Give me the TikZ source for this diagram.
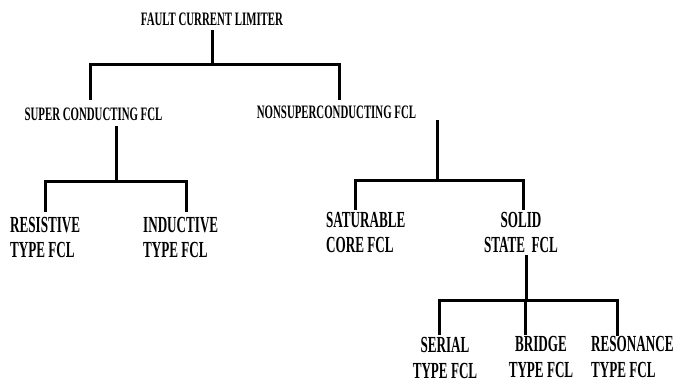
\documentclass[tikz,border=0pt]{standalone}
\usepackage{fontspec}
\newfontfamily\lblfont{Liberation Serif Bold}[FakeStretch=0.57]
\begin{document}
\begin{tikzpicture}[x=1pt,y=-1pt,
  conn/.style={line width=3pt,line cap=rect},
  toplbl/.style={inner sep=0pt,font=\lblfont\fontsize{19}{21}\selectfont},
  lbl/.style={inner sep=0pt,font=\lblfont\fontsize{23}{25.5}\selectfont}]
\useasboundingbox[fill=white] (0,0) rectangle (674,383);
% nodes (two-line nodes: base anchor = baseline of last line)
\node[toplbl,anchor=base] (fcl) at (212,25) {FAULT CURRENT LIMITER};
\node[toplbl,anchor=base] (sc) at (93.5,120) {SUPER CONDUCTING FCL};
\node[toplbl,anchor=base] (nsc) at (336.5,118) {NONSUPERCONDUCTING FCL};
\node[lbl,align=left,anchor=base west] (res) at (10,257.5) {RESISTIVE\\TYPE FCL};
\node[lbl,align=left,anchor=base west] (ind) at (143,257.5) {INDUCTIVE\\TYPE FCL};
\node[lbl,align=left,anchor=base west] (sat) at (326,252.5) {SATURABLE\\CORE FCL};
\node[lbl,align=center,anchor=base] (ss) at (521,252.5) {SOLID\\STATE\ \ FCL};
\node[lbl,align=center,anchor=base] (ser) at (445,378) {SERIAL\\TYPE FCL};
\node[lbl,align=center,anchor=base] (bri) at (541,377) {BRIDGE\\TYPE FCL};
\node[lbl,align=left,anchor=base west] (reso) at (591,377) {RESONANCE\\TYPE FCL};
% junction coordinates
\coordinate (j0) at (212,64);
\coordinate (j0l) at (90,64);
\coordinate (j0r) at (339,64);
\coordinate (scT) at (90,98);
\coordinate (nscT) at (339,98);
\coordinate (scB) at (116,127);
\coordinate (j1) at (116,181);
\coordinate (j1l) at (45,181);
\coordinate (j1r) at (186,181);
\coordinate (resT) at (45,210);
\coordinate (indT) at (186,210);
\coordinate (nscB) at (437,121);
\coordinate (j2) at (437,180);
\coordinate (j2l) at (355,180);
\coordinate (j2r) at (523,180);
\coordinate (satT) at (355,208);
\coordinate (ssT) at (523,208);
\coordinate (ssB) at (526,256);
\coordinate (j3) at (526,300);
\coordinate (j3l) at (439,300);
\coordinate (j3r) at (617,300);
\coordinate (j3m) at (525,300);
\coordinate (serT) at (439,333);
\coordinate (briT) at (525,333);
\coordinate (resoT) at (617,334);
% connectors
\draw[conn] (fcl.south |- 0,31) -- (j0);
\draw[conn] (j0l) -- (j0r);
\draw[conn] (j0l) -- (scT);
\draw[conn] (j0r) -- (nscT);
\draw[conn] (scB) -- (j1);
\draw[conn] (j1l) -- (j1r);
\draw[conn] (j1l) -- (resT);
\draw[conn] (j1r) -- (indT);
\draw[conn] (nscB) -- (j2);
\draw[conn] (j2l) -- (j2r);
\draw[conn] (j2l) -- (satT);
\draw[conn] (j2r) -- (ssT);
\draw[conn] (ssB) -- (j3);
\draw[conn] (j3l) -- (j3r);
\draw[conn] (j3l) -- (serT);
\draw[conn] (j3m) -- (briT);
\draw[conn] (j3r) -- (resoT);
\end{tikzpicture}
\end{document}
